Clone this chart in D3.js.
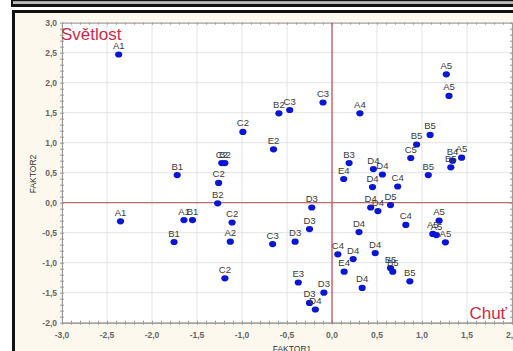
<!DOCTYPE html>
<html>
<head>
<meta charset="utf-8">
<script src="https://cdn.jsdelivr.net/npm/d3@7"></script>
<style>
  html, body { margin: 0; padding: 0; background: #fff; }
  svg { display: block; font-family: "Liberation Sans", Arial, sans-serif; }
</style>
</head>
<body>
<svg id="chart" width="513" height="351"></svg>
<script>
// Sample codes and their scores on the two factors
const sampleLabels = [
  "A1","B2","C3","C3","A4","A5","A5","C2","E2","B5","B5","C5","B4","A5","B5",
  "C2","B2","B1","B3","E4","D4","D4","D4","C4","B5","C2","B2","D3","D4","D4","D5",
  "A1","A1","B1","C2","D3","C4","A5","A5","A5","A5","D4","B1","A2","C3","D3",
  "D4","C4","D4","E4","B5","B5","C2","E3","B5","D4","D3","D3","D4"
];
const faktor1 = [
  -2.37,-0.59,-0.47,-0.10,0.31,1.27,1.30,-0.99,-0.65,1.09,0.94,0.875,1.34,1.44,1.32,
  -1.225,-1.19,-1.72,0.19,0.13,0.46,0.56,0.45,0.73,1.07,-1.26,-1.27,-0.225,0.43,0.51,0.65,
  -2.35,-1.645,-1.55,-1.11,-0.25,0.82,1.19,1.12,1.16,1.26,0.30,-1.755,-1.13,-0.66,-0.41,
  0.48,0.065,0.235,0.135,0.65,0.675,-1.19,-0.375,0.865,0.335,-0.09,-0.25,-0.185
];
const faktor2 = [
  2.47,1.49,1.545,1.67,1.49,2.14,1.78,1.18,0.89,1.13,0.97,0.745,0.70,0.75,0.59,
  0.66,0.66,0.46,0.66,0.395,0.56,0.47,0.26,0.27,0.46,0.33,-0.01,-0.08,-0.08,-0.14,-0.04,
  -0.31,-0.29,-0.29,-0.33,-0.44,-0.37,-0.30,-0.52,-0.54,-0.66,-0.49,-0.655,-0.65,-0.69,-0.65,
  -0.84,-0.86,-0.94,-1.15,-1.09,-1.15,-1.26,-1.33,-1.31,-1.42,-1.50,-1.67,-1.78
];

// Axis ticks
const xTicks = [-3.0,-2.5,-2.0,-1.5,-1.0,-0.5,0.0,0.5,1.0,1.5,2.0];
const yTicks = [-2.0,-1.5,-1.0,-0.5,0.0,0.5,1.0,1.5,2.0,2.5,3.0];
const xDomain = [-3, 2];
const yDomain = [-2, 3];

const svg = d3.select("#chart");
const W = 513, H = 351;

// Frame of the panel above (only its lower edge shows)
svg.append("rect").attr("x", 11).attr("y", 0).attr("width", W).attr("height", 1.5).attr("fill", "#111");
svg.append("rect").attr("x", 11).attr("y", 1.5).attr("width", W).attr("height", 2.5).attr("fill", "#bbb");
svg.append("rect").attr("x", 11).attr("y", 4).attr("width", W).attr("height", 3).attr("fill", "#111");
svg.append("rect").attr("x", 11).attr("y", 0).attr("width", 2).attr("height", 7).attr("fill", "#111");

// Main panel
svg.append("rect")
  .attr("x", 13.5).attr("y", 11.5)
  .attr("width", W + 20).attr("height", H + 20)
  .attr("fill", "#fdf8ed")
  .attr("stroke", "#111").attr("stroke-width", 3);

const plot = { left: 62, right: 512, top: 22.7, bottom: 322.7 };
const x = d3.scaleLinear().domain(xDomain).range([plot.left, plot.right]);
const y = d3.scaleLinear().domain(yDomain).range([plot.bottom, plot.top]);

// Plot background
svg.append("rect")
  .attr("x", plot.left).attr("y", plot.top)
  .attr("width", plot.right - plot.left).attr("height", plot.bottom - plot.top)
  .attr("fill", "#fff");

// Grid
const grid = svg.append("g").attr("stroke", "#e3e3e3").attr("stroke-width", 1);
grid.selectAll(".gx").data(xTicks).join("line")
  .attr("x1", d => x(d)).attr("x2", d => x(d))
  .attr("y1", plot.top).attr("y2", plot.bottom);
grid.selectAll(".gy").data(yTicks).join("line")
  .attr("y1", d => y(d)).attr("y2", d => y(d))
  .attr("x1", plot.left).attr("x2", plot.right);

// Plot frame with minor ticks
const fmt = d => d3.format(".1f")(d).replace(".", ",").replace("−", "-");
const minorX = d3.range(-3, 2.001, 0.1);
const minorY = d3.range(-2, 3.001, 0.1);

const xAxis = d3.axisBottom(x).tickValues(minorX).tickSize(2).tickFormat("");
const xAxisTop = d3.axisTop(x).tickValues(minorX).tickSize(2).tickFormat("");
const yAxis = d3.axisLeft(y).tickValues(minorY).tickSize(2).tickFormat("");
const yAxisRight = d3.axisRight(y).tickValues(minorY).tickSize(2).tickFormat("");

function styleAxis(g) {
  g.selectAll("path.domain").attr("stroke", "#999");
  g.selectAll(".tick line").attr("stroke", "#999");
}
svg.append("g").attr("transform", `translate(0,${plot.bottom})`).call(d3.axisTop(x).tickValues(minorX).tickSize(2).tickFormat("").tickSizeOuter(0)).call(styleAxis);
svg.append("g").attr("transform", `translate(0,${plot.bottom})`).call(xAxis.tickSizeOuter(0)).call(styleAxis);
svg.append("g").attr("transform", `translate(0,${plot.top})`).call(d3.axisBottom(x).tickValues(minorX).tickSize(2).tickFormat("").tickSizeOuter(0)).call(styleAxis);
svg.append("g").attr("transform", `translate(${plot.left},0)`).call(d3.axisRight(y).tickValues(minorY).tickSize(2).tickFormat("").tickSizeOuter(0)).call(styleAxis);
svg.append("g").attr("transform", `translate(${plot.left},0)`).call(yAxis.tickSizeOuter(0)).call(styleAxis);
svg.append("g").attr("transform", `translate(${plot.right},0)`).call(d3.axisLeft(y).tickValues(minorY).tickSize(2).tickFormat("").tickSizeOuter(0)).call(styleAxis);

// Tick labels
const tickStyle = g => g.attr("font-size", 8.5).attr("font-weight", "bold").attr("fill", "#666");
svg.append("g").call(tickStyle).selectAll("text").data(xTicks).join("text")
  .attr("x", d => x(d)).attr("y", 337.5).attr("text-anchor", "middle")
  .text(fmt);
svg.append("g").call(tickStyle).selectAll("text").data(yTicks).join("text")
  .attr("x", 57).attr("y", d => y(d) + 3).attr("text-anchor", "end")
  .text(fmt);

// Axis titles
svg.append("text")
  .attr("transform", `translate(36,174) rotate(-90)`)
  .attr("text-anchor", "middle").attr("font-size", 8.5).attr("fill", "#333")
  .text("FAKTOR2");
svg.append("text")
  .attr("x", 292).attr("y", 352).attr("text-anchor", "middle")
  .attr("font-size", 8.5).attr("fill", "#333")
  .text("FAKTOR1");

// Zero lines
svg.append("line")
  .attr("x1", x(0)).attr("x2", x(0)).attr("y1", plot.top).attr("y2", plot.bottom)
  .attr("stroke", "#c8484f").attr("stroke-width", 1.2);
svg.append("line")
  .attr("x1", plot.left).attr("x2", plot.right).attr("y1", y(0)).attr("y2", y(0))
  .attr("stroke", "#c06d70").attr("stroke-width", 1.2);

// Quadrant captions
svg.append("text").attr("x", 61).attr("y", 40)
  .attr("font-size", 17).attr("fill", "#d02a48").text("Světlost");
svg.append("text").attr("x", 507).attr("y", 319).attr("text-anchor", "end")
  .attr("font-size", 17).attr("fill", "#d02a48").text("Chuť");

// Points and labels
const pts = sampleLabels.map((l, i) => ({ label: l, f1: faktor1[i], f2: faktor2[i] }));
svg.append("g").selectAll("ellipse").data(pts).join("ellipse")
  .attr("cx", d => x(d.f1)).attr("cy", d => y(d.f2))
  .attr("rx", 3.6).attr("ry", 3.1)
  .attr("fill", "#0a16d6");
svg.append("g").selectAll("text").data(pts).join("text")
  .attr("x", d => x(d.f1)).attr("y", d => y(d.f2) - 5.5)
  .attr("text-anchor", "middle").attr("font-size", 9.5).attr("fill", "#3a3a3a")
  .text(d => d.label);
</script>
</body>
</html>
